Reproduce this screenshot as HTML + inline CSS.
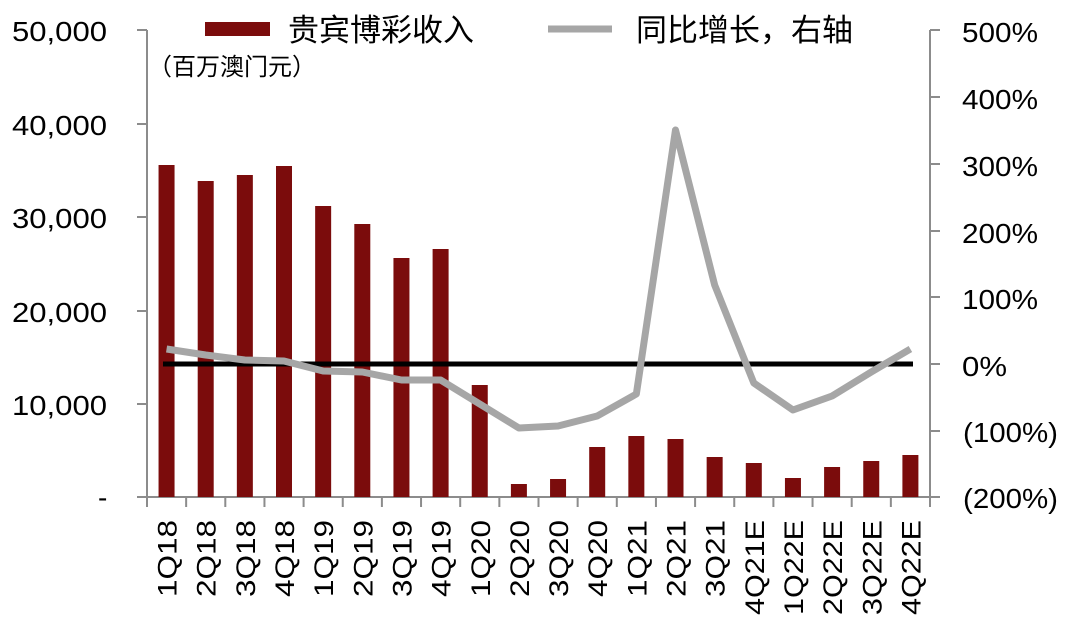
<!DOCTYPE html>
<html><head><meta charset="utf-8"><style>
body{margin:0;background:#fff}
svg text{font-family:"Liberation Sans","Noto Sans CJK SC",sans-serif;fill:#000}
</style></head><body>
<svg width="1080" height="629" xmlns="http://www.w3.org/2000/svg">
<g stroke="#8c8c8c" stroke-width="2" fill="none">
<line x1="147" y1="30" x2="147" y2="497"/>
<line x1="930" y1="30" x2="930" y2="497"/>
<line x1="147" y1="497" x2="930" y2="497"/>
<path d="M137 30H147M137 124H147M137 217H147M137 311H147M137 404H147M137 497H147"/>
<path d="M930 30H940M930 97H940M930 164H940M930 231H940M930 297H940M930 364H940M930 431H940M930 497H940"/>
<path id="xt"/>
</g>
<g font-size="28">
<text x="12" y="41" textLength="95" lengthAdjust="spacingAndGlyphs">50,000</text>
<text x="12" y="135" textLength="95" lengthAdjust="spacingAndGlyphs">40,000</text>
<text x="12" y="228" textLength="95" lengthAdjust="spacingAndGlyphs">30,000</text>
<text x="12" y="322" textLength="95" lengthAdjust="spacingAndGlyphs">20,000</text>
<text x="12" y="415" textLength="95" lengthAdjust="spacingAndGlyphs">10,000</text>
<text x="98" y="507">-</text>
</g>
<g font-size="28">
<text x="962" y="42" textLength="76" lengthAdjust="spacingAndGlyphs">500%</text>
<text x="962" y="109" textLength="76" lengthAdjust="spacingAndGlyphs">400%</text>
<text x="962" y="176" textLength="76" lengthAdjust="spacingAndGlyphs">300%</text>
<text x="962" y="243" textLength="76" lengthAdjust="spacingAndGlyphs">200%</text>
<text x="962" y="309" textLength="76" lengthAdjust="spacingAndGlyphs">100%</text>
<text x="962" y="376" textLength="45" lengthAdjust="spacingAndGlyphs">0%</text>
<text x="963" y="442" textLength="95" lengthAdjust="spacingAndGlyphs">(100%)</text>
<text x="963" y="508" textLength="95" lengthAdjust="spacingAndGlyphs">(200%)</text>
</g>
<text x="148" y="75" font-size="24">（百万澳门元）</text>
<rect x="205" y="22" width="65" height="14" fill="#7b0c0c"/>
<text x="288" y="41" font-size="31">贵宾博彩收入</text>
<line x1="548" y1="29" x2="612" y2="29" stroke="#a6a6a6" stroke-width="7"/>
<text x="636" y="41" font-size="31">同比增长，右轴</text>
<g fill="#7b0c0c" id="bars"></g>
<line x1="163" y1="364" x2="913" y2="364" stroke="#000" stroke-width="5"/>
<polyline id="ln" fill="none" stroke="#a6a6a6" stroke-width="7" stroke-linejoin="round"/>
<g id="xl" font-size="27"></g>
</svg>
<script>
var tops=[165,181,175,166,206,224,258,249,385,484,479,447,436,439,457,463,478,467,461,455];
var ly=[349,355,360,361,371,372,380,380,404,428,426,416,394,130,285,383,410,396,372,349];
var lab=["1Q18","2Q18","3Q18","4Q18","1Q19","2Q19","3Q19","4Q19","1Q20","2Q20","3Q20","4Q20","1Q21","2Q21","3Q21","4Q21E","1Q22E","2Q22E","3Q22E","4Q22E"];
var ns="http://www.w3.org/2000/svg",b=document.getElementById('bars'),x=document.getElementById('xl'),pts=[],d="";
for(var i=0;i<=20;i++){var bx=147+39.15*i;d+="M"+bx+" 497V507";}
document.getElementById('xt').setAttribute('d',d);
for(var i=0;i<20;i++){var c=147+19.55+39.15*i;
var r=document.createElementNS(ns,'rect');r.setAttribute('x',c-8);r.setAttribute('y',tops[i]);r.setAttribute('width',16);r.setAttribute('height',497-tops[i]);b.appendChild(r);
pts.push(c+','+ly[i]);
var t=document.createElementNS(ns,'text');t.setAttribute('transform','translate('+(c+10)+',520) rotate(-90)');t.setAttribute('text-anchor','end');
t.setAttribute('textLength',lab[i].length==4?77:95);t.setAttribute('lengthAdjust','spacingAndGlyphs');t.textContent=lab[i];x.appendChild(t);}
document.getElementById('ln').setAttribute('points',pts.join(' '));
</script>
</body></html>
